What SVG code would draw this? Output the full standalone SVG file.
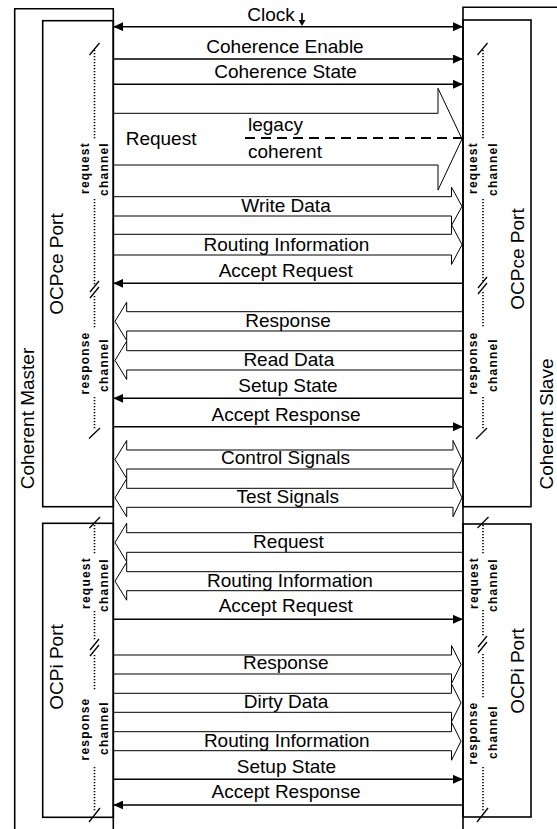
<svg xmlns="http://www.w3.org/2000/svg" width="557" height="829" viewBox="0 0 557 829">
  <style>
    .box { fill: none; stroke: #000; stroke-width: 1.6; }
    .sig { fill: none; stroke: #000; stroke-width: 1.6; }
    .bus { fill: none; stroke: #000; stroke-width: 1; }
    .dash { fill: none; stroke: #000; stroke-width: 2; stroke-dasharray: 10 6; }
    .dot { fill: none; stroke: #000; stroke-width: 1.6; stroke-dasharray: 1.2 1.8; }
    .tick { fill: none; stroke: #000; stroke-width: 1.3; }
    .lbl { font-family: "Liberation Sans", Arial, sans-serif; font-size: 19px; fill: #000; text-anchor: middle; }
    .lft { text-anchor: start; }
    .ch { font-family: "Liberation Sans", Arial, sans-serif; font-size: 12px; font-weight: bold; letter-spacing: 1.2px; fill: #000; text-anchor: middle; }
  </style>
  <defs>
    <marker id="ah" markerUnits="userSpaceOnUse" markerWidth="10" markerHeight="9" refX="10" refY="4.5" orient="auto-start-reverse">
      <path d="M0,0 L10,4.5 L0,9 Z" fill="#000"/>
    </marker>
  </defs>
  <rect width="557" height="829" fill="#fff"/>

  <!-- Coherent Master with its two ports -->
  <g id="coherent-master">
    <path class="box" d="M14.7,829 V8.7 H113.3 V829"/>
    <text class="lbl" transform="translate(33.5,418.5) rotate(-90)">Coherent Master</text>
  </g>
  <g id="master-ocpce-port">
    <rect class="box" x="42.7" y="20.7" width="70.6" height="486"/>
    <text class="lbl" transform="translate(63,264) rotate(-90)">OCPce Port</text>
    <path class="tick" d="M89.5,55 L99.5,43"/>
    <path class="dot" d="M94.5,50 V139 M94.5,199 V285 M94.5,296 V328 M94.5,397 V430"/>
    <path class="tick" d="M90,292 L99,281 M90,298 L99,287"/>
    <path class="tick" d="M89,438.5 L100,428"/>
    <text class="ch" transform="translate(89,168) rotate(-90)">request</text>
    <text class="ch" transform="translate(108,169) rotate(-90)">channel</text>
    <text class="ch" transform="translate(89,363) rotate(-90)">response</text>
    <text class="ch" transform="translate(108,365) rotate(-90)">channel</text>
  </g>
  <g id="master-ocpi-port">
    <rect class="box" x="42.7" y="523.3" width="70.6" height="294"/>
    <text class="lbl" transform="translate(63,667) rotate(-90)">OCPi Port</text>
    <path class="tick" d="M89.5,528 L100,517"/>
    <path class="dot" d="M94.5,525 V554 M94.5,611 V640 M94.5,655 V690 M94.5,767 V812"/>
    <path class="tick" d="M90,650 L99,639 M90,656 L99,645"/>
    <path class="tick" d="M89,822 L100,808"/>
    <text class="ch" transform="translate(89.5,583) rotate(-90)">request</text>
    <text class="ch" transform="translate(108,585) rotate(-90)">channel</text>
    <text class="ch" transform="translate(89,729) rotate(-90)">response</text>
    <text class="ch" transform="translate(108,728) rotate(-90)">channel</text>
  </g>

  <!-- Coherent Slave with its two ports -->
  <g id="coherent-slave">
    <path class="box" d="M463,829 V7.3 H560"/>
    <text class="lbl" transform="translate(552.5,424) rotate(-90)">Coherent Slave</text>
  </g>
  <g id="slave-ocpce-port">
    <rect class="box" x="463" y="20" width="68" height="486.7"/>
    <text class="lbl" transform="translate(523.5,259) rotate(-90)">OCPce Port</text>
    <path class="tick" d="M477.5,55 L487.5,43"/>
    <path class="dot" d="M483,50 V139 M483,199 V281 M483,292 V328 M483,397 V430"/>
    <path class="tick" d="M478,288 L487,277 M478,294 L487,283"/>
    <path class="tick" d="M476,439 L487,428"/>
    <text class="ch" transform="translate(477,168) rotate(-90)">request</text>
    <text class="ch" transform="translate(496.5,169) rotate(-90)">channel</text>
    <text class="ch" transform="translate(477,363) rotate(-90)">response</text>
    <text class="ch" transform="translate(496.5,365) rotate(-90)">channel</text>
  </g>
  <g id="slave-ocpi-port">
    <rect class="box" x="463" y="524" width="68" height="293"/>
    <text class="lbl" transform="translate(523.5,671) rotate(-90)">OCPi Port</text>
    <path class="tick" d="M477.5,528 L488.5,517"/>
    <path class="dot" d="M483,525 V554 M483,610 V636 M483,654 V699 M483,767 V812"/>
    <path class="tick" d="M478,647 L487,636 M478,653 L487,642"/>
    <path class="tick" d="M477,822 L488,808"/>
    <text class="ch" transform="translate(477.5,583) rotate(-90)">request</text>
    <text class="ch" transform="translate(496.5,585) rotate(-90)">channel</text>
    <text class="ch" transform="translate(477,733) rotate(-90)">response</text>
    <text class="ch" transform="translate(496.5,732) rotate(-90)">channel</text>
  </g>

  <!-- Signals between master and slave -->
  <g id="connectors">
    <!-- OCPce request side -->
    <line class="sig" x1="113.3" y1="26.7" x2="463" y2="26.7" marker-start="url(#ah)" marker-end="url(#ah)"/>
    <path class="sig" d="M302,13 V21"/>
    <path d="M298.5,20 L305.5,20 L302,26 Z" fill="#000"/>
    <line class="sig" x1="113.3" y1="59" x2="463" y2="59" marker-end="url(#ah)"/>
    <line class="sig" x1="113.3" y1="84.3" x2="463" y2="84.3" marker-end="url(#ah)"/>
    <path class="bus" d="M113.3,113.3 H438 V88.3 L462,139 L438,190 V165 H113.3"/>
    <line class="dash" x1="245" y1="138" x2="462" y2="138"/>
    <path class="bus" d="M113.3,196.7 H451.5 V187.2 L462,206.4 L451.5,225.5 V216 H113.3"/>
    <path class="bus" d="M113.3,234.3 H451.5 V224.8 L462,244.6 L451.5,264.5 V255 H113.3"/>
    <line class="sig" x1="463" y1="283.3" x2="113.3" y2="283.3" marker-end="url(#ah)"/>
    <!-- OCPce response side -->
    <path class="bus" d="M463,311.7 H126.7 V302.2 L115,321.4 L126.7,340.5 V331 H463"/>
    <path class="bus" d="M463,350.7 H126.7 V341.2 L115,360.4 L126.7,379.5 V370 H463"/>
    <line class="sig" x1="463" y1="398.3" x2="113.3" y2="398.3" marker-end="url(#ah)"/>
    <line class="sig" x1="113.3" y1="426.7" x2="463" y2="426.7" marker-end="url(#ah)"/>
    <!-- sideband -->
    <path class="bus" d="M126.7,450 H453 V440.5 L462,459.5 L453,478.5 V469 H126.7 V478.5 L115,459.5 L126.7,440.5 Z"/>
    <path class="bus" d="M126.7,488.3 H453 V478.8 L462,497.8 L453,516.8 V507.3 H126.7 V516.8 L115,497.8 L126.7,478.8 Z"/>
    <!-- OCPi request side -->
    <path class="bus" d="M463,532.7 H126.7 V523.2 L115,542.5 L126.7,561.8 V552.3 H463"/>
    <path class="bus" d="M463,571.7 H126.7 V562.2 L115,581.2 L126.7,600.2 V590.7 H463"/>
    <line class="sig" x1="113.3" y1="619.3" x2="463" y2="619.3" marker-end="url(#ah)"/>
    <!-- OCPi response side -->
    <path class="bus" d="M113.3,655 H451.5 V645.5 L461,664.5 L451.5,683.5 V674 H113.3"/>
    <path class="bus" d="M113.3,693.3 H451.5 V683.8 L461,702.8 L451.5,721.8 V712.3 H113.3"/>
    <path class="bus" d="M113.3,731.7 H451.5 V722.2 L461,741.2 L451.5,760.2 V750.7 H113.3"/>
    <line class="sig" x1="113.3" y1="779.3" x2="463" y2="779.3" marker-end="url(#ah)"/>
    <line class="sig" x1="463" y1="805" x2="113.3" y2="805" marker-end="url(#ah)"/>
  </g>

  <!-- Signal names -->
  <g id="signal-labels">
    <text class="lbl" x="271" y="20.5">Clock</text>
    <text class="lbl" x="285" y="53">Coherence Enable</text>
    <text class="lbl" x="285.5" y="78.3">Coherence State</text>
    <text class="lbl lft" x="125.7" y="145">Request</text>
    <text class="lbl lft" x="248" y="131">legacy</text>
    <text class="lbl lft" x="248" y="158">coherent</text>
    <text class="lbl" x="286" y="212">Write Data</text>
    <text class="lbl" x="286.5" y="251">Routing Information</text>
    <text class="lbl" x="285.7" y="276.7">Accept Request</text>
    <text class="lbl" x="288" y="326.7">Response</text>
    <text class="lbl" x="288.8" y="366">Read Data</text>
    <text class="lbl" x="288" y="391.7">Setup State</text>
    <text class="lbl" x="286" y="420.7">Accept Response</text>
    <text class="lbl" x="285.5" y="464.3">Control Signals</text>
    <text class="lbl" x="287.7" y="502.7">Test Signals</text>
    <text class="lbl" x="288.5" y="547.7">Request</text>
    <text class="lbl" x="290" y="586.7">Routing Information</text>
    <text class="lbl" x="285.7" y="611.7">Accept Request</text>
    <text class="lbl" x="285.7" y="669.3">Response</text>
    <text class="lbl" x="286" y="708.3">Dirty Data</text>
    <text class="lbl" x="286.8" y="746.7">Routing Information</text>
    <text class="lbl" x="286.5" y="772.7">Setup State</text>
    <text class="lbl" x="286" y="798.3">Accept Response</text>
  </g>
</svg>
